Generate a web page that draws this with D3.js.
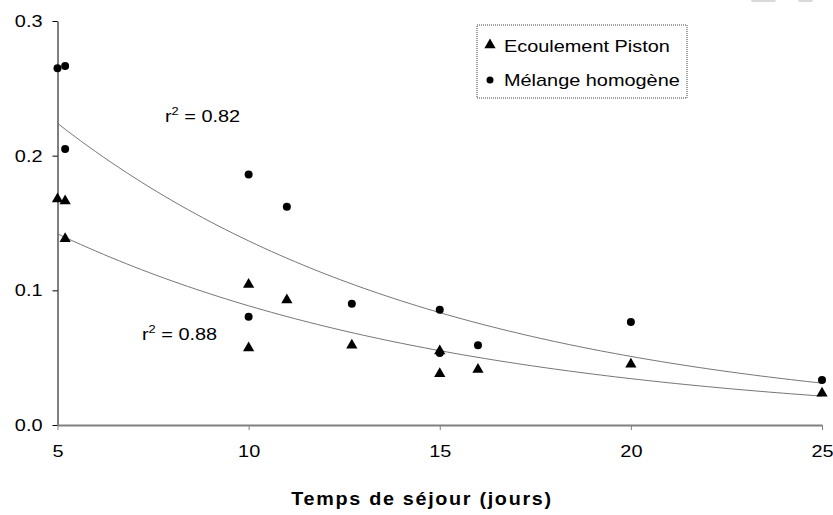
<!DOCTYPE html>
<html>
<head>
<meta charset="utf-8">
<script src="https://cdn.jsdelivr.net/npm/d3@7"></script>
<style>
  body { margin: 0; background: #fff; }
  svg { display: block; font-family: 'Liberation Sans', Arial, sans-serif; }
</style>
</head>
<body>
<div id="chart"></div>
<script>
// data
const pistonX = [5, 5.2, 5.2, 10, 11, 10, 12.7, 15, 15, 16, 20, 25];
const pistonY = [0.1685, 0.167, 0.139, 0.105, 0.0935, 0.058, 0.0599, 0.0557, 0.0388, 0.042, 0.0458, 0.0243];
const melangeX = [5, 5.2, 5.2, 10, 11, 10, 12.7, 15, 15, 16, 20, 25];
const melangeY = [0.265, 0.2665, 0.205, 0.186, 0.162, 0.0804, 0.090, 0.0855, 0.0535, 0.0592, 0.0765, 0.0334];
const xTicks = [5, 10, 15, 20, 25];
const yTicks = [0, 0.1, 0.2, 0.3];
const legendLabels = ['Ecoulement Piston', 'Mélange homogène'];
const r2Labels = ['0.82', '0.88'];
const xTitle = 'Temps de séjour (jours)';

const width = 833, height = 515;
const margin = { top: 21, right: 11, bottom: 90, left: 57.5 };
const stretchK = 1.17; // the original text is drawn wider than Arial

const svg = d3.select('#chart')
  .append('svg')
  .attr('width', width)
  .attr('height', height);

// widen a text around its own anchor point
function stretch(sel, k) {
  sel.each(function () {
    const t = d3.select(this);
    const x = +t.attr('x') || 0, y = +t.attr('y') || 0;
    t.attr('transform', `translate(${x},${y}) scale(${k},1) translate(${-x},${-y})`);
  });
}

const xScale = d3.scaleLinear().domain([5, 25]).range([margin.left, width - margin.right]);
const yScale = d3.scaleLinear().domain([0, 0.3]).range([height - margin.bottom, margin.top]);

// little grey marks at the top right corner of the original
svg.append('rect').attr('x', 751).attr('y', -3).attr('width', 25).attr('height', 5).attr('rx', 2).attr('fill', '#d9d9d9');
svg.append('rect').attr('x', 798).attr('y', -3).attr('width', 15).attr('height', 5).attr('rx', 2).attr('fill', '#d9d9d9');

// x axis (grey)
const xAxis = svg.append('g')
  .attr('transform', `translate(0, ${yScale(0)})`)
  .call(d3.axisBottom(xScale).tickValues(xTicks).tickSize(5).tickSizeOuter(0).tickPadding(15).tickFormat(d3.format('d')));
xAxis.select('.domain').attr('stroke', '#808080').attr('stroke-width', 2);
xAxis.selectAll('.tick line').attr('stroke', '#808080');
xAxis.selectAll('.tick text').attr('font-size', '17px').attr('fill', '#000').call(stretch, stretchK);

// y axis
const yAxis = svg.append('g')
  .attr('transform', `translate(${margin.left}, 0)`)
  .call(d3.axisLeft(yScale).tickValues(yTicks).tickSize(5).tickSizeOuter(0).tickPadding(10).tickFormat(d3.format('.1f')));
yAxis.select('.domain').attr('stroke', '#000');
yAxis.selectAll('.tick text').attr('font-size', '17px').attr('fill', '#000').call(stretch, stretchK);
xAxis.raise();

// exponential trendline fitted like a spreadsheet does (least squares on ln y)
function expFit(xs, ys) {
  const ly = ys.map(Math.log);
  const mx = d3.mean(xs), my = d3.mean(ly);
  const sxy = d3.sum(xs, (x, i) => (x - mx) * (ly[i] - my));
  const sxx = d3.sum(xs, x => (x - mx) * (x - mx));
  const b = sxy / sxx;
  const a = Math.exp(my - b * mx);
  return x => a * Math.exp(b * x);
}

const line = d3.line().x(d => xScale(d[0])).y(d => yScale(d[1]));
[[melangeX, melangeY], [pistonX, pistonY]].forEach(([xs, ys]) => {
  const f = expFit(xs, ys);
  const [x0, x1] = d3.extent(xs);
  const pts = d3.range(0, 101).map(i => {
    const x = x0 + (x1 - x0) * i / 100;
    return [x, f(x)];
  });
  svg.append('path')
    .attr('d', line(pts))
    .attr('fill', 'none')
    .attr('stroke', '#666')
    .attr('stroke-width', 0.9);
});

// markers
const tri = d3.symbol().type(d3.symbolTriangle).size(55);
svg.append('g')
  .selectAll('path')
  .data(pistonX.map((x, i) => [x, pistonY[i]]))
  .enter()
  .append('path')
  .attr('d', tri)
  .attr('transform', d => `translate(${xScale(d[0])}, ${yScale(d[1]) + 1})`)
  .attr('fill', '#000');

svg.append('g')
  .selectAll('circle')
  .data(melangeX.map((x, i) => [x, melangeY[i]]))
  .enter()
  .append('circle')
  .attr('cx', d => xScale(d[0]))
  .attr('cy', d => yScale(d[1]))
  .attr('r', 4)
  .attr('fill', '#000');

// r² labels
const r2Pos = [[165, 122], [142, 340]];
r2Labels.forEach((v, i) => {
  const t = svg.append('text')
    .attr('x', r2Pos[i][0])
    .attr('y', r2Pos[i][1])
    .attr('font-size', '17px');
  t.append('tspan').text('r');
  t.append('tspan').attr('dy', -7).attr('font-size', '11px').text('2');
  t.append('tspan').attr('dy', 7).text(' = ' + v);
  t.call(stretch, stretchK);
});

// legend
const legend = svg.append('g');
legend.append('rect')
  .attr('x', 477).attr('y', 25).attr('width', 210).attr('height', 73)
  .attr('fill', '#fff')
  .attr('stroke', '#444')
  .attr('stroke-width', 1)
  .attr('stroke-dasharray', '1,1');
legend.append('path').attr('d', tri).attr('transform', 'translate(490, 45)').attr('fill', '#000');
legend.append('circle').attr('cx', 490).attr('cy', 80).attr('r', 3.5).attr('fill', '#000');
legend.selectAll('text.lbl')
  .data(legendLabels)
  .enter()
  .append('text')
  .attr('class', 'lbl')
  .attr('x', 504)
  .attr('y', (d, i) => 52 + i * 34)
  .attr('font-size', '17px')
  .text(d => d)
  .call(stretch, stretchK);

// x axis title
svg.append('text')
  .attr('x', 422)
  .attr('y', 505)
  .attr('text-anchor', 'middle')
  .attr('font-size', '17.5px')
  .attr('font-weight', 'bold')
  .attr('letter-spacing', '1.5px')
  .text(xTitle)
  .call(stretch, 1.13);
</script>
</body>
</html>
